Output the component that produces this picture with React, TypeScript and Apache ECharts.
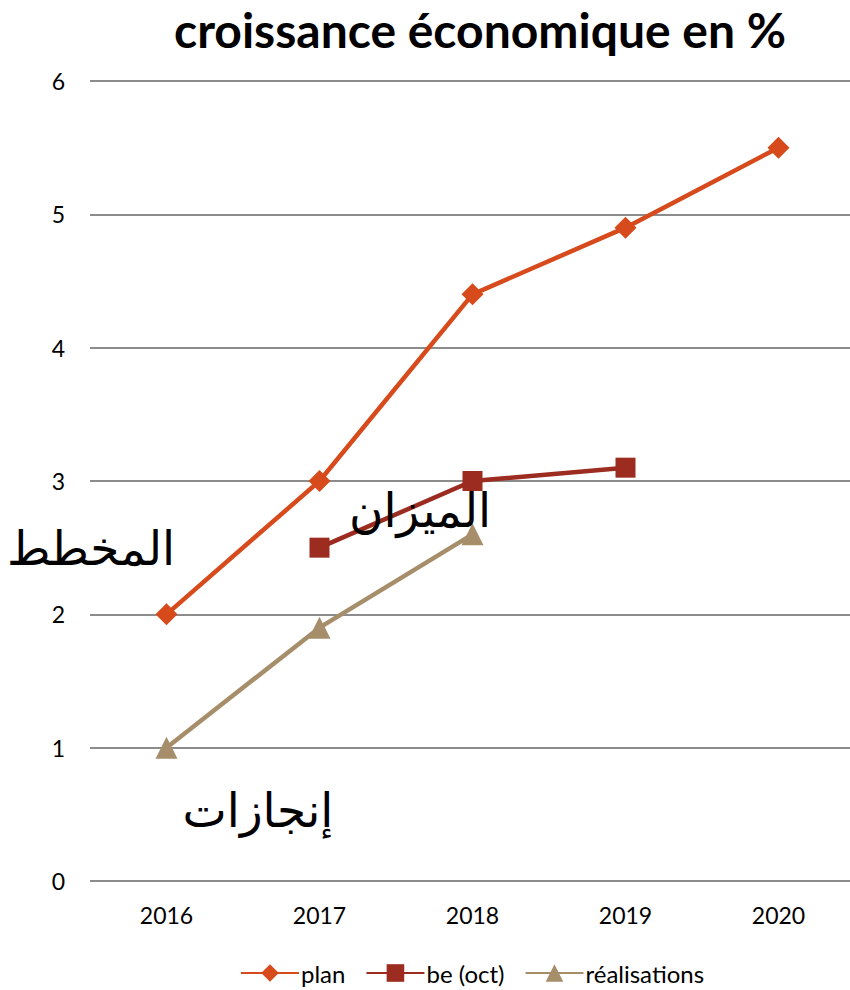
import React, { useEffect, useRef } from "react";
import * as echarts from "echarts";

const years = ["2016", "2017", "2018", "2019", "2020"];
const planValues = [2, 3, 4.4, 4.9, 5.5];
const beValues: (number | null)[] = [null, 2.5, 3, 3.1, null];
const realValues: (number | null)[] = [1, 1.9, 2.6, null, null];
const titleText = "croissance économique en %";
const arabicLabels = [
  { text: "المخطط", x: 91, y: 548 },
  { text: "الميزان", x: 420, y: 510 },
  { text: "إنجازات", x: 258, y: 810 },
];

const FONT = "Lato, 'Open Sans', sans-serif";

export default function App() {
  const ref = useRef<HTMLDivElement>(null);
  useEffect(() => {
    document.body.style.margin = "0";
    const chart = echarts.init(ref.current!, null, { renderer: "svg" });
    chart.setOption({
      animation: false,
      backgroundColor: "#ffffff",
      title: {
        text: titleText,
        left: 475,
        top: 0,
        textAlign: "center",
        textStyle: { fontFamily: FONT, fontSize: 48, fontWeight: "bold", color: "#000" },
      },
      legend: {
        bottom: 0,
        left: 235,
        itemWidth: 58,
        itemHeight: 22,
        itemGap: 20,
        textStyle: { fontFamily: FONT, fontSize: 24, color: "#000", padding: [0, 0, 0, -3] },
        data: ["plan", "be (oct)", "réalisations"],
      },
      grid: {
        left: 90,
        width: 765,
        top: 81,
        bottom: 109,
        containLabel: false,
        outerBoundsMode: "none",
      },
      xAxis: {
        type: "category",
        data: years,
        boundaryGap: true,
        axisLine: { show: false },
        axisTick: { show: false },
        axisLabel: { fontFamily: FONT, fontSize: 23, color: "#000", margin: 22 },
      },
      yAxis: {
        type: "value",
        min: 0,
        max: 6,
        interval: 1,
        axisLine: { show: false },
        axisTick: { show: false },
        axisLabel: { fontFamily: FONT, fontSize: 23, color: "#000", margin: 25 },
        splitLine: { lineStyle: { color: "#8c8c8c", width: 2 } },
      },
      series: [
        {
          name: "plan",
          type: "line",
          data: planValues,
          symbol: "diamond",
          symbolSize: 22,
          itemStyle: { color: "#D64A1C" },
          lineStyle: { width: 4.5, color: "#D64A1C" },
        },
        {
          name: "be (oct)",
          type: "line",
          data: beValues,
          symbol: "rect",
          symbolSize: 20,
          itemStyle: { color: "#9C2B20" },
          lineStyle: { width: 4.5, color: "#9C2B20" },
        },
        {
          name: "réalisations",
          type: "line",
          data: realValues,
          symbol: "triangle",
          symbolSize: 22,
          itemStyle: { color: "#A68E6B" },
          lineStyle: { width: 4.5, color: "#A68E6B" },
        },
      ],
      graphic: arabicLabels.map((l) => ({
        type: "text",
        x: l.x,
        y: l.y,
        z: 100,
        style: {
          text: l.text,
          fontFamily: "'DejaVu Sans', 'Noto Sans', serif",
          fontSize: 47,
          fill: "#000",
          align: "center",
          verticalAlign: "middle",
        },
      })),
    });
    return () => chart.dispose();
  }, []);
  return <div ref={ref} style={{ position: "absolute", left: 0, top: 0, width: 850, height: 990 }} />;
}
